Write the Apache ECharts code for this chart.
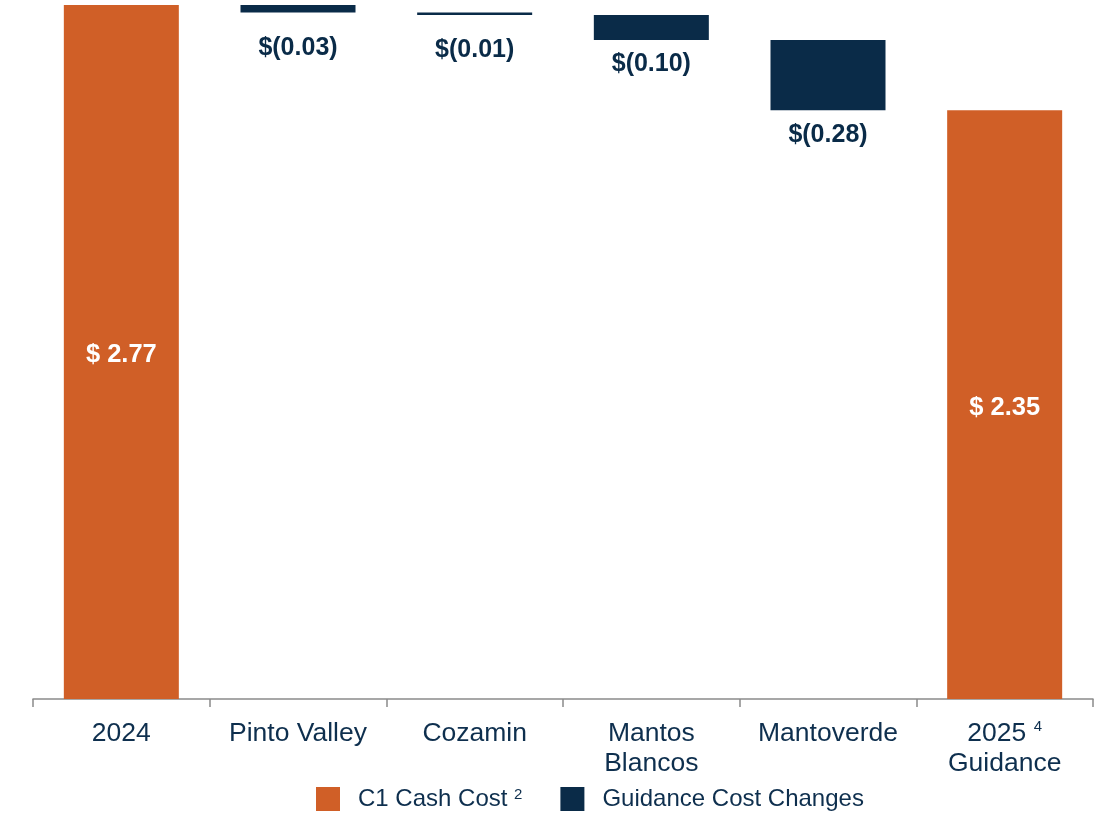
<!DOCTYPE html>
<html>
<head>
<meta charset="utf-8">
<script src="https://cdn.jsdelivr.net/npm/echarts@6/dist/echarts.min.js"></script>
<style>
  html, body { margin: 0; padding: 0; background: #fff; }
  #chart { width: 1102px; height: 813px; }
</style>
</head>
<body>
<div id="chart"></div>
<script>
// categories (rich markup for the footnote marker)
const categories = ['2024', 'Pinto Valley', 'Cozamin', 'Mantos\nBlancos', 'Mantoverde', '2025 {sup|4}\nGuidance'];
// C1 cash cost totals ($/lb), '-' where no total bar
const totals = [2.77, '-', '-', '-', '-', 2.35];
// guidance cost changes (decreases)
const changes = ['-', 0.03, 0.01, 0.10, 0.28, '-'];

const orange = '#D05F27';
const navy = '#0A2B48';
const textNavy = '#0E2F4E';
const font = 'Arial, "Liberation Sans", sans-serif';

// invisible base for the waterfall steps
let running = totals[0];
const base = changes.map(function (c) {
  if (c === '-') return '-';
  running -= c;
  return +running.toFixed(4);
});

const myChart = echarts.init(document.getElementById('chart'));

const option = {
  animation: false,
  textStyle: { fontFamily: font },
  grid: { left: 33, right: 9, top: 5, bottom: 114, containLabel: false },
  legend: {
    left: 316,
    top: 787,
    padding: 0,
    itemWidth: 24,
    itemHeight: 24,
    itemGap: 38,
    icon: 'rect',
    data: ['C1 Cash Cost', 'Guidance Cost Changes'],
    formatter: function (name) {
      return name === 'C1 Cash Cost' ? '{t|C1 Cash Cost }{sup|2}' : '{t|' + name + '}';
    },
    textStyle: {
      color: textNavy,
      fontFamily: font,
      rich: {
        t: { fontSize: 24, color: textNavy, fontFamily: font, padding: [0, 0, 0, 13] },
        sup: { fontSize: 15, color: textNavy, fontFamily: font, verticalAlign: 'top', lineHeight: 14 }
      }
    }
  },
  xAxis: {
    type: 'category',
    data: categories,
    axisLine: { lineStyle: { color: '#8a8a8a', width: 1.5 } },
    axisTick: { show: true, length: 8, interval: 0, lineStyle: { color: '#8a8a8a', width: 1.5 } },
    axisLabel: {
      interval: 0,
      margin: 20,
      color: textNavy,
      fontSize: 26.5,
      lineHeight: 30,
      fontFamily: font,
      rich: {
        sup: { fontSize: 15, color: textNavy, fontFamily: font, verticalAlign: 'top', lineHeight: 14 }
      }
    }
  },
  yAxis: {
    type: 'value',
    min: 0,
    max: 2.77,
    show: false,
    splitLine: { show: false }
  },
  series: [
    {
      name: 'base',
      type: 'bar',
      stack: 'wf',
      barWidth: 115,
      itemStyle: { color: 'transparent' },
      emphasis: { disabled: true },
      data: base
    },
    {
      name: 'C1 Cash Cost',
      type: 'bar',
      stack: 'wf',
      barWidth: 115,
      itemStyle: { color: orange },
      label: {
        show: true,
        position: 'inside',
        offset: [0, 3],
        color: '#fff',
        fontWeight: 'bold',
        fontSize: 25.5,
        fontFamily: font,
        formatter: function (p) { return '$ ' + p.value.toFixed(2); }
      },
      data: totals
    },
    {
      name: 'Guidance Cost Changes',
      type: 'bar',
      stack: 'wf',
      barWidth: 115,
      itemStyle: { color: navy },
      data: changes.map(function (c) {
        if (c === '-') return '-';
        return {
          value: c,
          label: {
            show: true,
            position: 'bottom',
            distance: c < 0.05 ? 23 : 12,
            color: navy,
            fontWeight: 'bold',
            fontSize: 25,
            fontFamily: font,
            formatter: '$(' + c.toFixed(2) + ')'
          }
        };
      })
    }
  ]
};

myChart.setOption(option);
window.addEventListener('resize', () => myChart.resize());
</script>
</body>
</html>
